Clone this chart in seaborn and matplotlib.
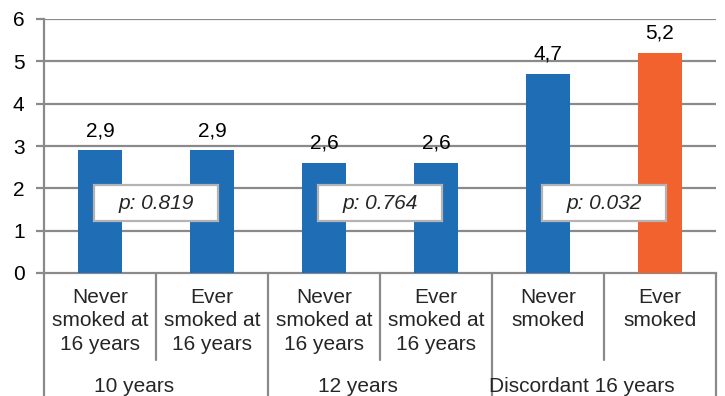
import matplotlib
matplotlib.use("Agg")
import matplotlib.pyplot as plt
from matplotlib.patches import Rectangle
from matplotlib.lines import Line2D
import seaborn as sns
import pandas as pd

# ---- data ----
bar_ids = ["b1", "b2", "b3", "b4", "b5", "b6"]
cat_labels = ["Never\nsmoked at\n16 years", "Ever\nsmoked at\n16 years",
              "Never\nsmoked at\n16 years", "Ever\nsmoked at\n16 years",
              "Never\nsmoked", "Ever\nsmoked"]
group_labels = ["10 years", "12 years", "Discordant 16 years"]
values = [2.9, 2.9, 2.6, 2.6, 4.7, 5.2]
value_texts = ["2,9", "2,9", "2,6", "2,6", "4,7", "5,2"]
p_texts = ["p: 0.819", "p: 0.764", "p: 0.032"]
bar_colors = ["#1F6DB5", "#1F6DB5", "#1F6DB5", "#1F6DB5", "#1F6DB5", "#F2622E"]

sns.set_theme(style="white")
plt.rcParams["font.family"] = ["Liberation Sans", "DejaVu Sans"]

FS = 15

fig = plt.figure(figsize=(7.25, 3.96), dpi=100)
ax = fig.add_axes([44 / 725, 123 / 396, 672 / 725, 254 / 396])

df = pd.DataFrame({"id": bar_ids, "v": values})
sns.barplot(data=df, x="id", y="v", hue="id", palette=bar_colors,
            legend=False, width=0.4, saturation=1, linewidth=0, ax=ax, zorder=3)

grid_c = "#8A8A8A"
ax.set_ylim(0, 6)
ax.set_xlim(-0.5, 5.5)
ax.set_yticks(range(7))
ax.set_yticklabels([str(i) for i in range(7)], fontsize=FS)
for y in range(1, 7):
    ax.axhline(y, color=grid_c, lw=1.6, zorder=1)
for s in ["top", "right"]:
    ax.spines[s].set_visible(False)
for s in ["left", "bottom"]:
    ax.spines[s].set_color(grid_c)
    ax.spines[s].set_linewidth(1.6)
ax.tick_params(axis="y", length=6, width=1.6, color=grid_c, direction="out",
               pad=8, labelcolor="black", left=True)
ax.set_xticks([])
ax.set_xlabel("")
ax.set_ylabel("")

# value labels
for i, (v, t) in enumerate(zip(values, value_texts)):
    ax.text(i, v + 0.24, t, ha="center", va="bottom", fontsize=FS, color="black")

# p-value boxes
for k, pt in enumerate(p_texts):
    cx = 2 * k + 0.5
    ax.add_patch(Rectangle((cx - 0.55, 1.23), 1.1, 0.85, facecolor="white",
                           edgecolor="#B4B4B4", lw=1.6, zorder=5))
    ax.text(cx, 1.63, pt, ha="center", va="center", fontsize=FS,
            style="italic", zorder=6)

# category axis
trans = ax.get_xaxis_transform()
for i, lab in enumerate(cat_labels):
    ax.text(i, -0.058, lab, transform=trans, ha="center", va="top",
            fontsize=FS, linespacing=1.3, clip_on=False)
for g, lab in enumerate(group_labels):
    ax.text(2 * g + 0.5 - 0.2, -0.445, lab, transform=trans, ha="center",
            va="center", fontsize=FS, clip_on=False)
for x in [0.5, 2.5, 4.5]:
    ax.add_line(Line2D([x, x], [0, -0.343], transform=trans, color=grid_c,
                       lw=1.6, clip_on=False))
for x in [-0.5, 1.5, 3.5, 5.5]:
    ax.add_line(Line2D([x, x], [0, -0.6], transform=trans, color=grid_c,
                       lw=1.6, clip_on=False))

fig.savefig("out.png", dpi=100)
